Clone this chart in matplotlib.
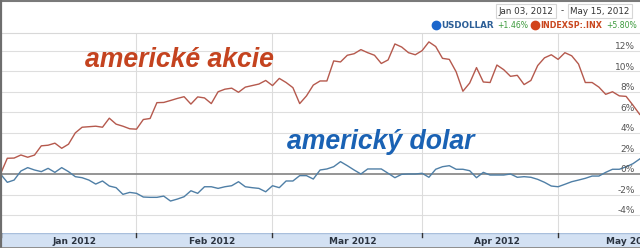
import matplotlib
matplotlib.use("Agg")
import matplotlib.pyplot as plt
from matplotlib.lines import Line2D
import matplotlib.transforms as mtrans

# ---- data (percent change since start) ----
sp500 = [0, 1.53, 1.55, 1.85, 1.63, 1.84, 2.74, 2.8, 3.0, 2.5,
         2.9, 4.0, 4.55, 4.6, 4.65, 4.55, 5.43, 4.85, 4.65, 4.4,
         4.36, 5.3, 5.4, 6.94, 6.96, 7.15, 7.35, 7.52, 6.8, 7.5,
         7.4, 6.85, 8.0, 8.25, 8.35, 7.95, 8.45, 8.6, 8.75, 9.1,
         8.6, 9.3, 8.9, 8.4, 6.85, 7.6, 8.65, 9.05, 9.05, 11.0,
         10.9, 11.55, 11.7, 12.1, 11.8, 11.55, 10.75, 11.1, 12.65, 12.35,
         11.8, 11.6, 12.0, 12.85, 12.4, 11.25, 11.15, 9.95, 8.05, 8.85,
         10.35, 8.95, 8.9, 10.6, 10.15, 9.5, 9.6, 8.7, 9.1, 10.55,
         11.3, 11.6, 11.15, 11.8, 11.5, 10.7, 8.9, 8.9, 8.45, 7.75,
         8.0, 7.6, 7.55, 6.7, 5.8]
usdollar = [0, -0.81, -0.59, 0.29, 0.62, 0.39, 0.23, 0.55, 0.16, 0.62,
            0.23, -0.26, -0.36, -0.59, -0.98, -0.68, -1.17, -1.33, -1.98, -1.79,
            -1.88, -2.24, -2.27, -2.27, -2.15, -2.63, -2.44, -2.21, -1.63, -1.88,
            -1.24, -1.24, -1.4, -1.24, -1.14, -0.75, -1.24, -1.33, -1.4, -1.73,
            -1.14, -1.33, -0.68, -0.68, -0.16, -0.16, -0.49, 0.39, 0.49, 0.71,
            1.2, 0.81, 0.39, 0.0, 0.49, 0.49, 0.49, 0.07, -0.36, -0.03,
            0.0, 0.0, 0.07, -0.32, 0.46, 0.71, 0.81, 0.46, 0.46, 0.32,
            -0.36, 0.16, -0.1, -0.1, -0.1, 0.0, -0.32, -0.26, -0.32, -0.52,
            -0.81, -1.17, -1.24, -1.0, -0.75, -0.59, -0.42, -0.2, -0.2, 0.16,
            0.46, 0.46, 0.7, 1.0, 1.46]
month_ends = [20, 40, 62, 82]
month_labels = ["Jan 2012", "Feb 2012", "Mar 2012", "Apr 2012", "May 2012"]
month_label_pos = [10.9, 31.1, 51.8, 73.0, 92.7]
y_ticks = [-4, -2, 0, 2, 4, 6, 8, 10, 12]
date_from = "Jan 03, 2012"
date_to = "May 15, 2012"
series_names = ["USDOLLAR", "INDEXSP:.INX"]
series_changes = ["+1.46%", "+5.80%"]

W, H = 640, 248
fig = plt.figure(figsize=(W / 100, H / 100), dpi=100)
fig.patch.set_facecolor("white")

def fx(px):
    return px / W

def fy(py):
    return 1 - py / H

# main axes: top at y=33, bottom at y=233
ax = fig.add_axes([0, fy(233), 1, (233 - 33) / H])
ax.set_facecolor("white")
ppp = 10.28
ax.set_ylim(-(233 - 174) / ppp, (174 - 33) / ppp)
ax.set_xlim(-0.5 / 6.8, (640 - 0.5) / 6.8)
for s in ["left", "right", "bottom"]:
    ax.spines[s].set_visible(False)
ax.spines["top"].set_color("#d8d8d8")
ax.spines["top"].set_linewidth(0.8)
ax.set_xticks([])
ax.set_yticks([])

for v in y_ticks:
    if v != 0:
        ax.axhline(v, color="#dedede", lw=0.8, zorder=1)
for m in month_ends:
    ax.axvline(m, color="#dcdcdc", lw=0.8, zorder=1)
ax.axhline(0, color="#8c8c8c", lw=1.3, zorder=2)

ax.plot(list(range(len(sp500))), sp500, color="#b5594d", lw=1.0, zorder=3)
ax.plot(list(range(len(usdollar))), usdollar, color="#4f7fa6", lw=1.0, zorder=3)

trans = mtrans.blended_transform_factory(ax.transAxes, ax.transData)
for v in y_ticks:
    ax.annotate(f"{v}%", xy=(635 / W, v), xycoords=trans,
                xytext=(0, 3.0), textcoords="offset points",
                ha="right", va="center", fontsize=6.5, color="#555555",
                family="DejaVu Sans")

# big labels
fig.text(fx(85), fy(67), "americké akcie", family="Liberation Sans",
         fontsize=19.2, fontweight="bold", style="italic", color="#c4431f",
         ha="left", va="baseline")
fig.text(fx(287), fy(149), "americký dolar", family="Liberation Sans",
         fontsize=19.2, fontweight="bold", style="italic", color="#1a62b4",
         ha="left", va="baseline")

# bottom axis bar
bar = fig.add_axes([0, fy(247), 1, 14 / H])
bar.set_facecolor("#d3e1f3")
bar.set_xlim(ax.get_xlim())
bar.set_ylim(0, 1)
bar.set_xticks([])
bar.set_yticks([])
for s in bar.spines.values():
    s.set_visible(False)
bar.axhline(1, color="#a9bfdc", lw=1.0)
for m in [0.1] + month_ends:
    bar.plot([m, m], [1, 0.72], color="#333333", lw=1.0)
for lbl, p in zip(month_labels, month_label_pos):
    bar.text(p, 0.42, lbl, ha="center", va="center", fontsize=6.5,
             color="#2a3340", family="DejaVu Sans", fontweight="bold",
             clip_on=True)

# header: date range boxes
box = dict(boxstyle="square,pad=0.25", fc="white", ec="#d6d6d6", lw=0.8)
fig.text(fx(526), fy(11), date_from, ha="center", va="center", fontsize=6.3,
         color="#333333", bbox=box, family="DejaVu Sans")
fig.text(fx(562), fy(11), "-", ha="center", va="center", fontsize=6.3,
         color="#333333", family="DejaVu Sans")
fig.text(fx(600), fy(11), date_to, ha="center", va="center", fontsize=6.3,
         color="#333333", bbox=box, family="DejaVu Sans")

# legend line
ly = fy(25)
fig.add_artist(Line2D([fx(436)], [ly], marker="o", ms=6, color="#1a66cc",
                      transform=fig.transFigure))
fig.text(fx(441), ly, series_names[0], ha="left", va="center", fontsize=6.3,
         color="#2d5f97", fontweight="bold", family="DejaVu Sans")
fig.text(fx(497), ly, series_changes[0], ha="left", va="center", fontsize=5.6,
         color="#3c9a3c", family="DejaVu Sans")
fig.add_artist(Line2D([fx(535)], [ly], marker="o", ms=6, color="#d2431a",
                      transform=fig.transFigure))
fig.text(fx(540), ly, series_names[1], ha="left", va="center", fontsize=5.8,
         color="#c9471f", fontweight="bold", family="DejaVu Sans")
fig.text(fx(606), ly, series_changes[1], ha="left", va="center", fontsize=5.6,
         color="#3c9a3c", family="DejaVu Sans")

# outer frame
fig.add_artist(Line2D([0, 1], [fy(0.5), fy(0.5)], color="#7a7a7a", lw=1.5,
                      transform=fig.transFigure))
fig.add_artist(Line2D([fx(0.8), fx(0.8)], [0, 1], color="#6e6e6e", lw=1.6,
                      transform=fig.transFigure))
fig.add_artist(Line2D([0, 1], [fy(247.5), fy(247.5)], color="#7a7a7a", lw=1.2,
                      transform=fig.transFigure))

fig.savefig("out.png", dpi=100)
